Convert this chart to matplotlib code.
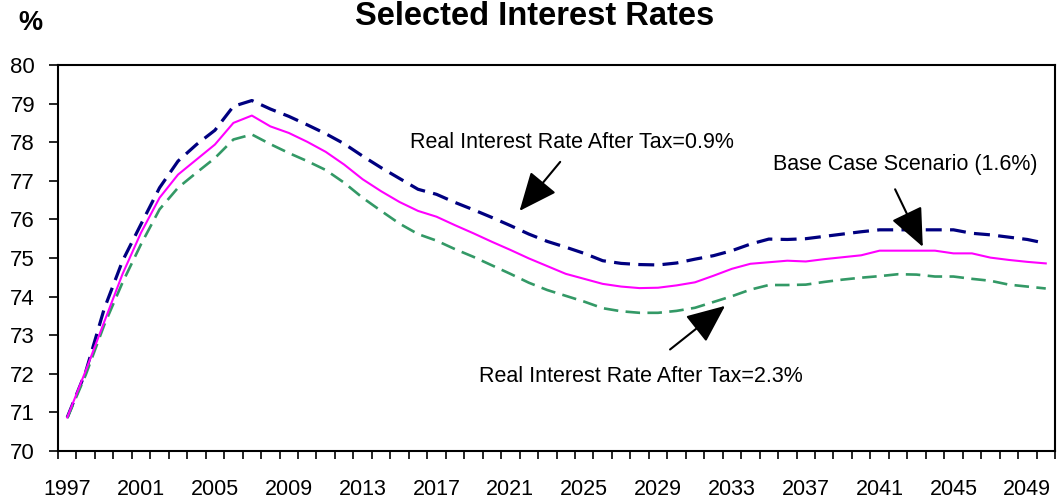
import matplotlib
matplotlib.use("Agg")
import matplotlib.pyplot as plt
import numpy as np

plt.rcParams['font.family'] = ['Liberation Sans', 'DejaVu Sans']

years = list(range(1997, 2051))

rate_09 = [70.87, 72.05, 73.68, 74.93, 75.88, 76.82, 77.51, 77.94, 78.31, 78.93,
           79.08, 78.86, 78.67, 78.45, 78.22, 77.96, 77.64, 77.34, 77.06, 76.78,
           76.65, 76.44, 76.25, 76.05, 75.84, 75.62, 75.43, 75.28, 75.12, 74.93,
           74.86, 74.83, 74.82, 74.87, 74.97, 75.06, 75.19, 75.36, 75.49, 75.48,
           75.50, 75.56, 75.62, 75.68, 75.73, 75.73, 75.73, 75.73, 75.73, 75.64,
           75.60, 75.54, 75.48, 75.38]

base_16 = [70.87, 72.08, 73.34, 74.59, 75.66, 76.56, 77.16, 77.55, 77.94, 78.50,
           78.69, 78.41, 78.24, 78.01, 77.75, 77.42, 77.04, 76.73, 76.45, 76.22,
           76.07, 75.85, 75.64, 75.42, 75.21, 74.99, 74.79, 74.59, 74.46, 74.33,
           74.26, 74.22, 74.23, 74.29, 74.37, 74.54, 74.72, 74.85, 74.89, 74.93,
           74.91, 74.97, 75.02, 75.07, 75.19, 75.19, 75.19, 75.19, 75.12, 75.12,
           75.01, 74.95, 74.90, 74.86]

rate_23 = [70.85, 71.97, 73.26, 74.37, 75.36, 76.26, 76.82, 77.21, 77.59, 78.07,
           78.20, 77.95, 77.72, 77.51, 77.28, 76.95, 76.56, 76.22, 75.89, 75.62,
           75.45, 75.23, 75.03, 74.81, 74.59, 74.36, 74.17, 74.02, 73.87, 73.70,
           73.62, 73.58, 73.58, 73.63, 73.71, 73.86, 74.01, 74.18, 74.30, 74.30,
           74.31, 74.38, 74.44, 74.49, 74.53, 74.58, 74.57, 74.52, 74.52, 74.46,
           74.41, 74.31, 74.26, 74.21]

label_years = list(range(1997, 2050, 4))
y_ticks = list(range(70, 81))

fig = plt.figure(figsize=(10.63, 5.01), dpi=100)
ax = fig.add_axes([58 / 1063, 1 - 451 / 501, (1055 - 58) / 1063, (451 - 65) / 501])

ax.plot(years, rate_09, color='#000080', lw=2.3, linestyle=(0, (5, 2.6)), zorder=3)
ax.plot(years, rate_23, color='#339966', lw=1.9, linestyle=(0, (5.5, 2.8)), zorder=3)
ax.plot(years, base_16, color='#FF00FF', lw=1.5, zorder=4)

ax.set_xlim(years[0] - 0.5, years[-1] + 0.5)
ax.set_ylim(70, 80)

ax.set_yticks(y_ticks)
ax.tick_params(axis='y', direction='out', length=6.5, width=1.2, pad=10, labelsize=16)
ax.set_xticks(label_years)
ax.set_xticks(np.arange(years[0] - 0.5, years[-1] + 1.0, 1.0), minor=True)
ax.tick_params(axis='x', which='major', length=0, pad=20.5, labelsize=15.5)
ax.tick_params(axis='x', which='minor', direction='out', length=6, width=1.2)

for s in ax.spines.values():
    s.set_linewidth(1.5)
    s.set_color('black')

fig.text(535 / 1063, 1 - 25 / 501, 'Selected Interest Rates', ha='center', va='baseline',
         fontsize=23.5, fontweight='bold')
fig.text(30 / 1063, 1 - 30 / 501, '%', ha='center', va='baseline', fontsize=19.5,
         fontweight='bold')

arrow = dict(arrowstyle='-|>,head_length=1.5,head_width=0.65', color='black', lw=1.5,
             mutation_scale=16, shrinkA=0, shrinkB=0)

ax.text(2024.34, 77.85, 'Real Interest Rate After Tax=0.9%', ha='center', va='baseline',
        fontsize=15.5)
ax.annotate('', xy=(2021.5, 76.22), xytext=(2023.7, 77.49), arrowprops=arrow)

ax.text(2042.38, 77.28, 'Base Case Scenario (1.6%)', ha='center', va='baseline', fontsize=15.5)
ax.annotate('', xy=(2043.34, 75.29), xytext=(2041.84, 76.78), arrowprops=arrow)

ax.text(2028.08, 71.80, 'Real Interest Rate After Tax=2.3%', ha='center', va='baseline',
        fontsize=15.5)
ax.annotate('', xy=(2032.63, 73.76), xytext=(2029.65, 72.63), arrowprops=arrow)

fig.savefig('out.png', dpi=100)
